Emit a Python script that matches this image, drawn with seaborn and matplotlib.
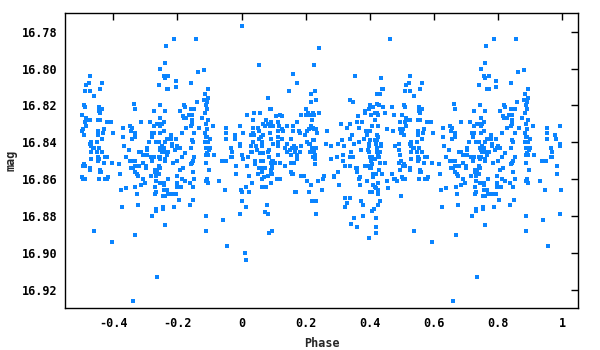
import numpy as np
import pandas as pd
import matplotlib
matplotlib.use("Agg")
import matplotlib.pyplot as plt
import seaborn as sns

# ---- data: phase in [0, 1) and magnitude ----
phase_a = [
    0.000, 0.055, 0.227, 0.161, 0.174, 0.149, 0.230, 0.217, 0.083, 0.233,
    0.217, 0.202, 0.093, 0.089, 0.040, 0.058, 0.018, 0.120, 0.127, 0.108,
    0.186, 0.202, 0.208, 0.224, 0.214, 0.227, 0.077, 0.036, 0.093, 0.114,
    0.174, 0.220, 0.068, 0.083, 0.074, 0.089, 0.099, 0.117, 0.142, 0.161,
    0.217, 0.224, 0.036, 0.052, 0.127, 0.161, 0.114, 0.130, 0.180, 0.211,
    0.227, 0.233, 0.005, 0.055, 0.089, 0.205, 0.183, 0.199, 0.236, 0.030,
    0.036, 0.040, 0.068, 0.061, 0.093, 0.114, 0.127, 0.155, 0.036, 0.055,
    0.064, 0.114, 0.142, 0.227, 0.224, 0.205, 0.214, 0.211, 0.030, 0.046,
    0.064, 0.099, 0.114, 0.136, 0.164, 0.170, 0.186, 0.158, 0.220, 0.233,
    0.049, 0.086, 0.030, 0.033, 0.083, 0.142, 0.152, 0.167, 0.183, 0.214,
    0.227, 0.058, 0.068, 0.174, 0.230, 0.155, 0.002, 0.021, 0.005, 0.086,
    0.174, 0.224, 0.227, 0.114, 0.230, 0.061, 0.043, 0.068, 0.096, 0.105,
    0.099, 0.121, 0.155, 0.158, 0.164, 0.093, 0.174, 0.230, 0.018, 0.043,
    0.096, 0.136, 0.055, 0.074, 0.064, 0.093, 0.096, 0.093, 0.064, 0.155,
    0.161, 0.158, 0.186, 0.195, 0.052, 0.083, 0.096, 0.024, 0.071, 0.064,
    0.121, 0.111, 0.205, 0.033, 0.093, 0.217, 0.015, 0.064, 0.077, 0.002,
    0.024, 0.167, 0.170, 0.211, 0.002, 0.220, 0.233, 0.080, 0.015, 0.074,
    0.083, 0.233, 0.086, 0.096, 0.011, 0.015,
]
mag_a = [
    16.777, 16.798, 16.798, 16.803, 16.808, 16.812, 16.812, 16.814, 16.816, 16.817,
    16.818, 16.822, 16.822, 16.822, 16.824, 16.824, 16.825, 16.825, 16.826, 16.826,
    16.825, 16.825, 16.824, 16.824, 16.825, 16.825, 16.828, 16.828, 16.829, 16.829,
    16.829, 16.828, 16.830, 16.830, 16.831, 16.831, 16.831, 16.831, 16.831, 16.831,
    16.831, 16.832, 16.832, 16.832, 16.833, 16.834, 16.834, 16.834, 16.834, 16.833,
    16.833, 16.833, 16.835, 16.834, 16.835, 16.834, 16.835, 16.836, 16.835, 16.836,
    16.835, 16.836, 16.836, 16.837, 16.838, 16.837, 16.838, 16.838, 16.840, 16.838,
    16.840, 16.840, 16.841, 16.839, 16.839, 16.840, 16.841, 16.841, 16.842, 16.842,
    16.842, 16.841, 16.842, 16.843, 16.842, 16.843, 16.842, 16.843, 16.843, 16.843,
    16.844, 16.844, 16.845, 16.845, 16.845, 16.845, 16.844, 16.845, 16.845, 16.845,
    16.845, 16.846, 16.846, 16.847, 16.847, 16.847, 16.847, 16.848, 16.849, 16.848,
    16.848, 16.848, 16.848, 16.847, 16.849, 16.850, 16.850, 16.850, 16.850, 16.851,
    16.850, 16.851, 16.851, 16.851, 16.851, 16.851, 16.849, 16.852, 16.853, 16.852,
    16.853, 16.853, 16.854, 16.854, 16.854, 16.855, 16.854, 16.856, 16.856, 16.856,
    16.857, 16.857, 16.858, 16.858, 16.857, 16.858, 16.857, 16.858, 16.859, 16.860,
    16.860, 16.860, 16.861, 16.862, 16.862, 16.863, 16.864, 16.864, 16.864, 16.867,
    16.867, 16.867, 16.867, 16.867, 16.872, 16.872, 16.872, 16.874, 16.875, 16.878,
    16.879, 16.879, 16.889, 16.888, 16.900, 16.904,
]

phase_b = [
    0.464, 0.242, 0.354, 0.435, 0.438, 0.442, 0.423, 0.432, 0.426, 0.339,
    0.348, 0.423, 0.429, 0.401, 0.411, 0.386, 0.398, 0.442, 0.470, 0.242,
    0.386, 0.417, 0.423, 0.448, 0.364, 0.404, 0.426, 0.476, 0.417, 0.376,
    0.361, 0.339, 0.311, 0.407, 0.426, 0.367, 0.330, 0.454, 0.389, 0.401,
    0.473, 0.267, 0.345, 0.392, 0.423, 0.426, 0.314, 0.339, 0.383, 0.401,
    0.417, 0.423, 0.367, 0.264, 0.302, 0.398, 0.420, 0.435, 0.435, 0.280,
    0.320, 0.351, 0.398, 0.423, 0.479, 0.373, 0.395, 0.423, 0.342, 0.398,
    0.423, 0.432, 0.426, 0.407, 0.317, 0.298, 0.339, 0.348, 0.401, 0.429,
    0.280, 0.417, 0.404, 0.317, 0.432, 0.448, 0.407, 0.323, 0.339, 0.358,
    0.361, 0.386, 0.392, 0.398, 0.401, 0.404, 0.429, 0.302, 0.361, 0.420,
    0.411, 0.438, 0.470, 0.289, 0.258, 0.289, 0.370, 0.255, 0.367, 0.411,
    0.476, 0.479, 0.486, 0.240, 0.392, 0.454, 0.305, 0.370, 0.411, 0.426,
    0.417, 0.420, 0.457, 0.426, 0.252, 0.401, 0.407, 0.426, 0.323, 0.339,
    0.432, 0.330, 0.426, 0.379, 0.323, 0.373, 0.414, 0.407, 0.351, 0.379,
    0.420, 0.342, 0.361, 0.420, 0.420, 0.398,
]
mag_b = [
    16.784, 16.789, 16.804, 16.805, 16.811, 16.811, 16.814, 16.814, 16.814, 16.817,
    16.818, 16.819, 16.820, 16.820, 16.821, 16.823, 16.822, 16.821, 16.821, 16.824,
    16.824, 16.824, 16.824, 16.824, 16.826, 16.825, 16.825, 16.825, 16.828, 16.829,
    16.829, 16.830, 16.830, 16.831, 16.831, 16.832, 16.832, 16.833, 16.834, 16.834,
    16.834, 16.834, 16.836, 16.836, 16.836, 16.837, 16.839, 16.838, 16.838, 16.839,
    16.839, 16.839, 16.840, 16.841, 16.841, 16.841, 16.841, 16.841, 16.842, 16.842,
    16.842, 16.841, 16.842, 16.843, 16.842, 16.844, 16.844, 16.844, 16.845, 16.845,
    16.845, 16.845, 16.847, 16.848, 16.847, 16.848, 16.848, 16.848, 16.848, 16.848,
    16.849, 16.849, 16.850, 16.850, 16.851, 16.851, 16.852, 16.853, 16.853, 16.854,
    16.854, 16.853, 16.853, 16.853, 16.854, 16.854, 16.855, 16.856, 16.856, 16.857,
    16.857, 16.857, 16.857, 16.858, 16.858, 16.859, 16.859, 16.860, 16.860, 16.859,
    16.860, 16.860, 16.861, 16.861, 16.861, 16.861, 16.863, 16.863, 16.863, 16.862,
    16.864, 16.865, 16.865, 16.866, 16.866, 16.867, 16.867, 16.868, 16.870, 16.870,
    16.872, 16.873, 16.874, 16.874, 16.875, 16.872, 16.876, 16.877, 16.881, 16.880,
    16.881, 16.884, 16.886, 16.886, 16.889, 16.892,
]

phase_c = [
    0.526, 0.514, 0.523, 0.563, 0.557, 0.510, 0.526, 0.538, 0.663, 0.507,
    0.510, 0.554, 0.557, 0.563, 0.554, 0.666, 0.726, 0.557, 0.501, 0.514,
    0.520, 0.526, 0.510, 0.551, 0.557, 0.579, 0.585, 0.592, 0.685, 0.713,
    0.735, 0.726, 0.514, 0.629, 0.651, 0.657, 0.495, 0.504, 0.551, 0.570,
    0.654, 0.501, 0.498, 0.567, 0.598, 0.666, 0.726, 0.507, 0.551, 0.629,
    0.666, 0.722, 0.719, 0.563, 0.657, 0.492, 0.529, 0.526, 0.548, 0.535,
    0.732, 0.710, 0.632, 0.704, 0.529, 0.538, 0.554, 0.563, 0.492, 0.648,
    0.679, 0.685, 0.704, 0.529, 0.548, 0.551, 0.579, 0.576, 0.554, 0.573,
    0.495, 0.638, 0.691, 0.704, 0.726, 0.716, 0.529, 0.551, 0.595, 0.498,
    0.492, 0.507, 0.504, 0.510, 0.570, 0.651, 0.663, 0.666, 0.679, 0.691,
    0.722, 0.616, 0.526, 0.526, 0.557, 0.557, 0.560, 0.654, 0.660, 0.666,
    0.701, 0.701, 0.729, 0.729, 0.735, 0.495, 0.666, 0.673, 0.676, 0.620,
    0.582, 0.579, 0.573, 0.554, 0.504, 0.510, 0.691, 0.716, 0.732, 0.698,
    0.685, 0.669, 0.732, 0.729, 0.623, 0.638, 0.673, 0.729, 0.732, 0.498,
    0.626, 0.676, 0.732, 0.732, 0.719, 0.538, 0.669, 0.595, 0.735, 0.660,
    0.495, 0.501,
]
mag_c = [
    16.804, 16.809, 16.808, 16.808, 16.811, 16.812, 16.812, 16.815, 16.819, 16.820,
    16.821, 16.821, 16.822, 16.822, 16.823, 16.822, 16.823, 16.824, 16.825, 16.827,
    16.828, 16.828, 16.829, 16.828, 16.828, 16.829, 16.829, 16.829, 16.829, 16.829,
    16.830, 16.831, 16.831, 16.832, 16.831, 16.832, 16.833, 16.833, 16.834, 16.833,
    16.834, 16.834, 16.835, 16.835, 16.835, 16.835, 16.835, 16.836, 16.836, 16.837,
    16.837, 16.837, 16.835, 16.838, 16.838, 16.841, 16.840, 16.841, 16.840, 16.843,
    16.840, 16.840, 16.842, 16.843, 16.842, 16.843, 16.843, 16.845, 16.844, 16.844,
    16.845, 16.845, 16.844, 16.845, 16.845, 16.848, 16.848, 16.848, 16.849, 16.848,
    16.847, 16.848, 16.847, 16.847, 16.848, 16.848, 16.849, 16.850, 16.851, 16.850,
    16.851, 16.852, 16.853, 16.853, 16.851, 16.850, 16.850, 16.850, 16.853, 16.851,
    16.850, 16.852, 16.854, 16.855, 16.855, 16.856, 16.856, 16.854, 16.854, 16.853,
    16.853, 16.854, 16.855, 16.856, 16.855, 16.855, 16.856, 16.857, 16.858, 16.857,
    16.859, 16.860, 16.860, 16.860, 16.860, 16.860, 16.860, 16.858, 16.858, 16.862,
    16.863, 16.864, 16.861, 16.864, 16.866, 16.865, 16.868, 16.868, 16.867, 16.869,
    16.875, 16.874, 16.876, 16.877, 16.880, 16.888, 16.890, 16.894, 16.913, 16.926,
    16.829, 16.859,
]

phase_d = [
    0.788, 0.857, 0.763, 0.760, 0.747, 0.863, 0.882, 0.757, 0.772, 0.760,
    0.741, 0.794, 0.794, 0.841, 0.766, 0.772, 0.894, 0.885, 0.894, 0.882,
    0.891, 0.860, 0.744, 0.819, 0.822, 0.760, 0.807, 0.888, 0.891, 0.841,
    0.853, 0.885, 0.835, 0.844, 0.816, 0.819, 0.828, 0.875, 0.747, 0.894,
    0.844, 0.757, 0.751, 0.747, 0.738, 0.841, 0.844, 0.888, 0.828, 0.866,
    0.910, 0.953, 0.994, 0.891, 0.757, 0.747, 0.853, 0.885, 0.953, 0.978,
    0.779, 0.813, 0.888, 0.891, 0.953, 0.981, 0.900, 0.766, 0.779, 0.794,
    0.844, 0.847, 0.760, 0.741, 0.885, 0.894, 0.782, 0.782, 0.800, 0.751,
    0.994, 0.994, 0.966, 0.797, 0.807, 0.841, 0.744, 0.747, 0.751, 0.757,
    0.888, 0.900, 0.897, 0.791, 0.772, 0.754, 0.763, 0.822, 0.891, 0.888,
    0.913, 0.894, 0.969, 0.966, 0.969, 0.853, 0.813, 0.741, 0.747, 0.766,
    0.744, 0.760, 0.760, 0.847, 0.844, 0.938, 0.950, 0.841, 0.785, 0.800,
    0.888, 0.741, 0.744, 0.984, 0.897, 0.807, 0.816, 0.847, 0.984, 0.741,
    0.797, 0.813, 0.822, 0.769, 0.853, 0.891, 0.888, 0.894, 0.931, 0.838,
    0.847, 0.744, 0.757, 0.797, 0.757, 0.797, 0.810, 0.757, 0.766, 0.947,
    0.997, 0.769, 0.782, 0.794, 0.760, 0.754, 0.804, 0.850, 0.838, 0.754,
    0.754, 0.788, 0.888, 0.941, 0.994, 0.760, 0.888, 0.956,
]
mag_d = [
    16.784, 16.784, 16.788, 16.797, 16.800, 16.802, 16.801, 16.804, 16.804, 16.805,
    16.809, 16.807, 16.810, 16.808, 16.811, 16.811, 16.811, 16.814, 16.816, 16.817,
    16.818, 16.818, 16.820, 16.820, 16.821, 16.823, 16.823, 16.820, 16.822, 16.822,
    16.822, 16.824, 16.825, 16.825, 16.826, 16.827, 16.827, 16.827, 16.827, 16.828,
    16.828, 16.829, 16.830, 16.831, 16.830, 16.831, 16.830, 16.830, 16.832, 16.832,
    16.831, 16.832, 16.831, 16.833, 16.834, 16.835, 16.835, 16.835, 16.835, 16.836,
    16.836, 16.835, 16.837, 16.837, 16.838, 16.838, 16.838, 16.838, 16.838, 16.838,
    16.839, 16.840, 16.840, 16.840, 16.840, 16.840, 16.841, 16.842, 16.842, 16.842,
    16.841, 16.842, 16.843, 16.843, 16.843, 16.843, 16.843, 16.844, 16.845, 16.843,
    16.843, 16.843, 16.844, 16.844, 16.845, 16.845, 16.845, 16.846, 16.846, 16.847,
    16.847, 16.847, 16.845, 16.848, 16.848, 16.848, 16.848, 16.848, 16.848, 16.847,
    16.849, 16.849, 16.850, 16.850, 16.851, 16.850, 16.850, 16.852, 16.851, 16.850,
    16.851, 16.853, 16.854, 16.853, 16.855, 16.855, 16.854, 16.856, 16.857, 16.857,
    16.858, 16.860, 16.861, 16.860, 16.860, 16.860, 16.861, 16.862, 16.861, 16.862,
    16.864, 16.862, 16.862, 16.862, 16.863, 16.864, 16.864, 16.866, 16.866, 16.866,
    16.866, 16.868, 16.868, 16.868, 16.869, 16.869, 16.871, 16.871, 16.874, 16.875,
    16.876, 16.875, 16.880, 16.882, 16.879, 16.885, 16.888, 16.896,
]

xtick_values = [-0.4, -0.2, 0, 0.2, 0.4, 0.6, 0.8, 1]
xtick_labels = ["-0.4", "-0.2", "0", "0.2", "0.4", "0.6", "0.8", "1"]
ytick_values = [16.78, 16.80, 16.82, 16.84, 16.86, 16.88, 16.90, 16.92]
ytick_labels = ["16.78", "16.80", "16.82", "16.84", "16.86", "16.88", "16.90", "16.92"]

# ---- build the phased table (second half of the cycle repeated at phase-1) ----
phase = np.array(phase_a + phase_b + phase_c + phase_d)
mag = np.array(mag_a + mag_b + mag_c + mag_d)
assert len(phase) == len(mag)
wrap = phase >= 0.499
df = pd.DataFrame({
    "Phase": np.concatenate([phase, phase[wrap] - 1.0]),
    "mag": np.concatenate([mag, mag[wrap]]),
})

sns.set_theme(style="white")
plt.rcParams["font.family"] = ["DejaVu Sans Mono", "DejaVu Sans"]
plt.rcParams["font.weight"] = "bold"

fig = plt.figure(figsize=(6, 3.5), dpi=100)
ax = fig.add_axes([65 / 600, 42 / 350, 513 / 600, 295 / 350])

sns.scatterplot(data=df, x="Phase", y="mag", marker="s", s=6,
                color="#0a84ff", linewidth=0, ax=ax, legend=False)

ax.set_xlim(-0.551, 1.05)
ax.set_ylim(16.9298, 16.7699)
ax.set_xticks(xtick_values)
ax.set_xticklabels(xtick_labels)
ax.set_yticks(ytick_values)
ax.set_yticklabels(ytick_labels)

ax.tick_params(axis="both", direction="in", length=5, width=1, color="black",
               top=True, right=True, labelsize=8.5, labelcolor="black")
ax.tick_params(axis="x", pad=6.5)
ax.tick_params(axis="y", pad=5.5)
for lab in ax.get_xticklabels() + ax.get_yticklabels():
    lab.set_fontweight("bold")

for sp in ax.spines.values():
    sp.set_visible(True)
    sp.set_color("black")
    sp.set_linewidth(1)

ax.set_xlabel("Phase", fontsize=8.5, fontweight="bold", labelpad=5)
ax.set_ylabel("mag", fontsize=8.5, fontweight="bold", labelpad=3)
ax.grid(False)

fig.savefig("out.png", dpi=100, facecolor="white")
